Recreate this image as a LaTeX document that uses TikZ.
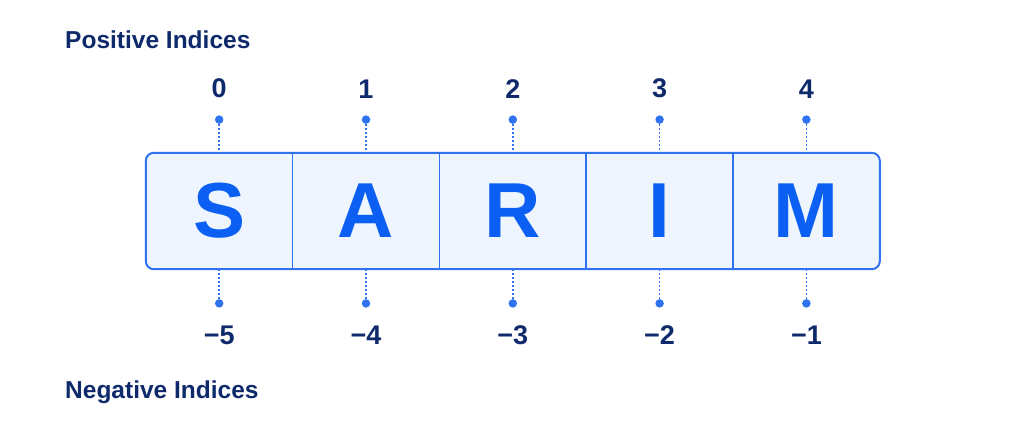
\documentclass[tikz,border=0pt]{standalone}
\usepackage{fontspec}
\setmainfont{Liberation Sans}
\usepackage{tikz}
\usetikzlibrary{positioning,backgrounds}
\usepackage{xcolor}
\definecolor{navy}{HTML}{0E2A6B}
\definecolor{letterblue}{HTML}{0B5FF2}
\definecolor{lineblue}{HTML}{2F73F0}
\definecolor{cellfill}{HTML}{EEF5FF}
\tikzstyle{cell} = [rectangle, minimum width=146.4pt, minimum height=116pt, inner sep=0pt, text=letterblue, font=\fontsize{78}{78}\selectfont\bfseries]
\tikzstyle{dot} = [circle, fill=lineblue, inner sep=0pt, minimum size=8.5pt]
\tikzstyle{index} = [inner sep=0pt, text=navy, font=\fontsize{27}{27}\selectfont\bfseries]
\tikzstyle{heading} = [inner sep=0pt, text=navy, font=\fontsize{24.5}{24.5}\selectfont\bfseries]
\tikzstyle{tick} = [lineblue, line width=1.7pt, dash pattern=on 1.7pt off 2.3pt]
\tikzstyle{divider} = [lineblue, line width=1.5pt]

\begin{document}
\begin{tikzpicture}
    \useasboundingbox (0,0) rectangle (1024pt,439pt);
    % Cells
    \node (s) [cell] at (219.2pt,228pt) {S};
    \node (a) [cell, right=0pt of s] {A};
    \node (r) [cell, right=0pt of a] {R};
    \node (i) [cell, right=0pt of r] {I};
    \node (m) [cell, right=0pt of i] {M};
    \begin{scope}[on background layer]
        \draw [lineblue, line width=2pt, fill=cellfill, rounded corners=8pt] (s.north west) rectangle (m.south east);
    \end{scope}
    \draw [divider] (s.north east) -- (s.south east);
    \draw [divider] (a.north east) -- (a.south east);
    \draw [divider] (r.north east) -- (r.south east);
    \draw [divider] (i.north east) -- (i.south east);

    % Positive indices
    \node (ds) [dot, above=28.75pt of s.north] {};
    \node (da) [dot, above=28.75pt of a.north] {};
    \node (dr) [dot, above=28.75pt of r.north] {};
    \node (di) [dot, above=28.75pt of i.north] {};
    \node (dm) [dot, above=28.75pt of m.north] {};
    \node (p0) [index, above=16.75pt of ds] {0};
    \node (p1) [index, above=16.75pt of da] {1};
    \node (p2) [index, above=16.75pt of dr] {2};
    \node (p3) [index, above=16.75pt of di] {3};
    \node (p4) [index, above=16.75pt of dm] {4};
    \draw [tick] (ds) -- (s.north);
    \draw [tick] (da) -- (a.north);
    \draw [tick] (dr) -- (r.north);
    \draw [tick] (di) -- (i.north);
    \draw [tick] (dm) -- (m.north);

    % Negative indices
    \node (es) [dot, below=29.75pt of s.south] {};
    \node (ea) [dot, below=29.75pt of a.south] {};
    \node (er) [dot, below=29.75pt of r.south] {};
    \node (ei) [dot, below=29.75pt of i.south] {};
    \node (em) [dot, below=29.75pt of m.south] {};
    \node (n5) [index, below=17.75pt of es] {−5};
    \node (n4) [index, below=17.75pt of ea] {−4};
    \node (n3) [index, below=17.75pt of er] {−3};
    \node (n2) [index, below=17.75pt of ei] {−2};
    \node (n1) [index, below=17.75pt of em] {−1};
    \draw [tick] (es) -- (s.south);
    \draw [tick] (ea) -- (a.south);
    \draw [tick] (er) -- (r.south);
    \draw [tick] (ei) -- (i.south);
    \draw [tick] (em) -- (m.south);

    % Headings
    \node (pos) [heading, anchor=base west] at (65pt,390pt) {Positive Indices};
    \node (neg) [heading, anchor=base west] at (65pt,41pt) {Negative Indices};
\end{tikzpicture}
\end{document}
